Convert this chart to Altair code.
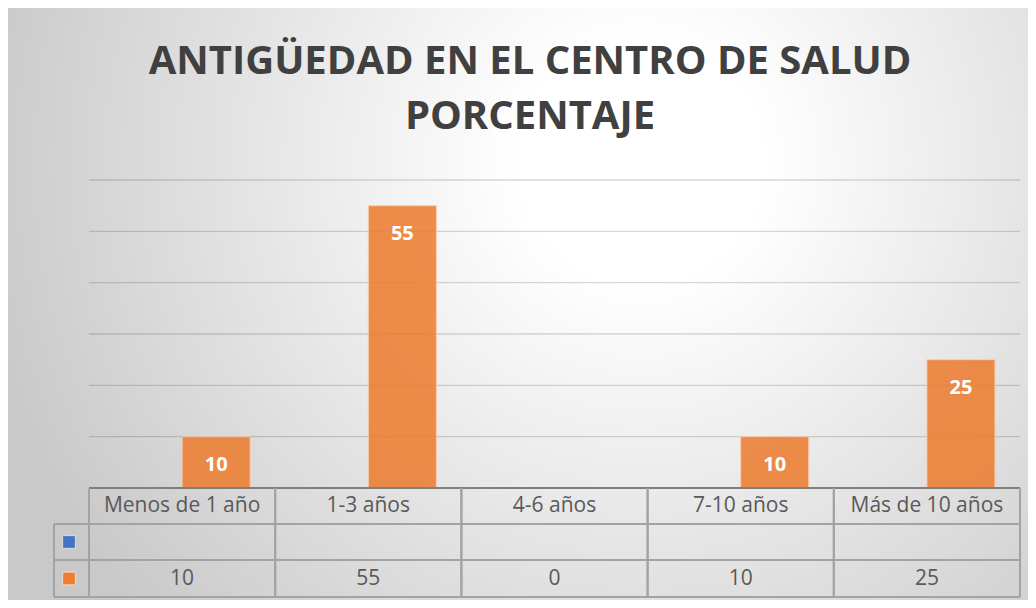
import altair as alt
import pandas as pd

CATEGORIES = ["Menos de 1 año", "1-3 años", "4-6 años", "7-10 años", "Más de 10 años"]
VALUES = [10, 55, 0, 10, 25]
SERIES = ["Serie 1", "Serie 2"]          # first series has no values
SERIES_COLORS = ["#4472C4", "#ED7D31"]
TITLE_LINES = ["ANTIGÜEDAD EN EL CENTRO DE SALUD", "PORCENTAJE"]
Y_TICKS = [0, 10, 20, 30, 40, 50, 60]

W, H = 931, 308
PAD = {"left": 81, "top": 172, "right": 8, "bottom": 112}
TEXT_FONT = "Open Sans"

df = pd.DataFrame({"cat": CATEGORIES, "value": VALUES, "series": SERIES[1]})
ticks_df = pd.DataFrame({"tick": Y_TICKS[1:]})
one = pd.DataFrame({"k": [0]})

xscale = alt.Scale(domain=CATEGORIES, paddingInner=0, paddingOuter=0)
yscale = alt.Scale(domain=[0, 60], nice=False)


def X(**kw):
    return alt.X("cat:N", scale=xscale, axis=None, sort=CATEGORIES, **kw)


bg = alt.Chart(one).mark_rect(
    fill=alt.RadialGradient(
        gradient="radial",
        x1=0.62, y1=0.36, r1=0.0,
        x2=0.62, y2=0.36, r2=0.66,
        stops=[
            alt.GradientStop(color="#ffffff", offset=0.0),
            alt.GradientStop(color="#ffffff", offset=0.18),
            alt.GradientStop(color="#c9c9c9", offset=1.0),
        ],
    )
).encode(
    x=alt.value(-PAD["left"]), x2=alt.value(W + PAD["right"]),
    y=alt.value(-PAD["top"]), y2=alt.value(H + PAD["bottom"]),
)

grid = alt.Chart(ticks_df).mark_rule(color="#000000", opacity=0.15, strokeWidth=1.3).encode(
    y=alt.Y("tick:Q", scale=yscale, axis=None),
    x=alt.value(0), x2=alt.value(W),
)

title1 = alt.Chart(one).mark_text(
    text=TITLE_LINES[0], font=TEXT_FONT, fontWeight="bold", fontSize=40,
    color="#404040", align="center", baseline="alphabetic",
).encode(x=alt.value(441), y=alt.value(-106))
title2 = alt.Chart(one).mark_text(
    text=TITLE_LINES[1], font=TEXT_FONT, fontWeight="bold", fontSize=40,
    color="#404040", align="center", baseline="alphabetic",
).encode(x=alt.value(441), y=alt.value(-51))

xoff = alt.XOffset("series:N", scale=alt.Scale(domain=SERIES, paddingInner=0, paddingOuter=0.3676))

bars = alt.Chart(df).transform_filter("datum.value > 0").mark_bar(
    color=SERIES_COLORS[1], opacity=0.87, stroke="#f8cbad", strokeWidth=1
).encode(
    x=X(), xOffset=xoff,
    y=alt.Y("value:Q", scale=yscale, axis=None),
)

labels = alt.Chart(df).transform_filter("datum.value > 0").mark_text(
    color="white", font=TEXT_FONT, fontWeight="bold", fontSize=20, baseline="middle", dy=28
).encode(
    x=X(), xOffset=xoff,
    y=alt.Y("value:Q", scale=yscale, axis=None),
    text="value:Q",
)

# ---- data table below the plot ----
LINE = "#a3a3a3"
ROW_Y = [H, H + 36, H + 72, H + 109]

baseline = alt.Chart(one).mark_rule(color="#7f7f7f", strokeWidth=2).encode(
    x=alt.value(0), x2=alt.value(W), y=alt.value(ROW_Y[0]))

hlines = [
    alt.Chart(one).mark_rule(color=LINE, strokeWidth=2).encode(
        x=alt.value(-35), x2=alt.value(W), y=alt.value(yy))
    for yy in ROW_Y[1:]
]

vlines_left = alt.Chart(df).mark_rule(color=LINE, strokeWidth=2).encode(
    x=X(bandPosition=0), y=alt.value(ROW_Y[0]), y2=alt.value(ROW_Y[3]))
vlines_right = alt.Chart(df).mark_rule(color=LINE, strokeWidth=2).encode(
    x=X(bandPosition=1), y=alt.value(ROW_Y[0]), y2=alt.value(ROW_Y[3]))
vline_key = alt.Chart(one).mark_rule(color=LINE, strokeWidth=2).encode(
    x=alt.value(-35), y=alt.value(ROW_Y[1]), y2=alt.value(ROW_Y[3]))

header_text = alt.Chart(df).mark_text(
    font=TEXT_FONT, fontSize=21, color="#595959", baseline="middle"
).encode(x=X(), y=alt.value((ROW_Y[0] + ROW_Y[1]) / 2), text="cat:N")

value_text = alt.Chart(df).mark_text(
    font=TEXT_FONT, fontSize=21, color="#595959", baseline="middle"
).encode(x=X(), y=alt.value((ROW_Y[2] + ROW_Y[3]) / 2), text="value:Q")

keys_df = pd.DataFrame({"series": SERIES})
key1 = alt.Chart(keys_df).transform_filter(alt.datum.series == SERIES[0]).mark_square(
    size=160, opacity=1, stroke="#ffffff", strokeWidth=1, strokeOpacity=0.6
).encode(x=alt.value(-20), y=alt.value((ROW_Y[1] + ROW_Y[2]) / 2),
         color=alt.Color("series:N", scale=alt.Scale(domain=SERIES, range=SERIES_COLORS), legend=None))
key2 = alt.Chart(keys_df).transform_filter(alt.datum.series == SERIES[1]).mark_square(
    size=160, opacity=1, stroke="#ffffff", strokeWidth=1, strokeOpacity=0.6
).encode(x=alt.value(-20), y=alt.value((ROW_Y[2] + ROW_Y[3]) / 2),
         color=alt.Color("series:N", scale=alt.Scale(domain=SERIES, range=SERIES_COLORS), legend=None))

chart = alt.layer(
    bg, grid, title1, title2, bars, labels, baseline, *hlines,
    vlines_left, vlines_right, vline_key, header_text, value_text, key1, key2,
).properties(
    width=W, height=H, autosize=alt.AutoSizeParams(type="none"), padding=PAD,
).configure_view(stroke=None).configure(background="white")

chart.save("out.html", embed_options={"renderer": "svg", "actions": False})
